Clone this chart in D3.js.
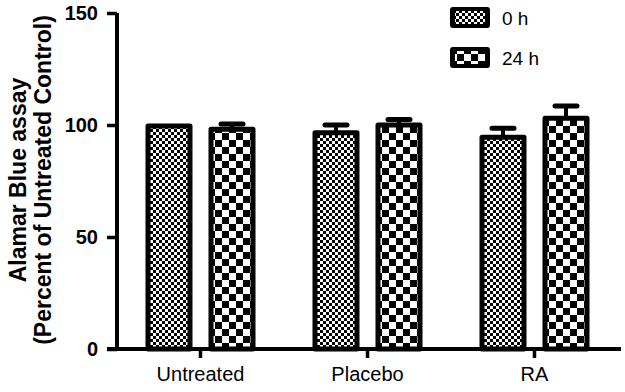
<!DOCTYPE html>
<html><head><meta charset="utf-8">
<script src="https://cdn.jsdelivr.net/npm/d3@7"></script>
<style>html,body{margin:0;padding:0;background:#fff;} svg{display:block;}</style>
</head><body>
<svg id="c" width="625" height="392"></svg>
<script>
const categories = ["Untreated", "Placebo", "RA"];
const series = ["0 h", "24 h"];
const values0h = [100, 97, 95];
const values24h = [98.5, 100.5, 103.5];
const errors0h = [0, 3, 3.5];
const errors24h = [2, 2, 5];
const yTicks = [0, 50, 100, 150];
const yLabel = ["Alamar Blue assay", "(Percent of Untreated Control)"];

const data = categories.map((c, i) => ({
  cat: c,
  bars: [
    {s: series[0], v: values0h[i], e: errors0h[i]},
    {s: series[1], v: values24h[i], e: errors24h[i]}
  ]
}));

const svg = d3.select("#c");
const font = "Arial, 'Liberation Sans', sans-serif";

const defs = svg.append("defs");
function checker(id, cell) {
  const p = defs.append("pattern").attr("id", id).attr("patternUnits", "userSpaceOnUse")
    .attr("width", cell * 2).attr("height", cell * 2);
  p.append("rect").attr("width", cell * 2).attr("height", cell * 2).attr("fill", "#fff");
  p.append("rect").attr("width", cell).attr("height", cell).attr("fill", "#000");
  p.append("rect").attr("x", cell).attr("y", cell).attr("width", cell).attr("height", cell).attr("fill", "#000");
}
checker("p0", 3);
checker("p24", 7);
const patId = {"0 h": "url(#p0)", "24 h": "url(#p24)"};

const y = d3.scaleLinear().domain([0, 150]).range([349, 13]);
const x0 = d3.scaleBand().domain(categories).range([117, 618]);
const x1 = d3.scaleBand().domain(series).range([28.5, 138.5]).paddingInner(0.254);

const sw = 5;
const g = svg.append("g");
const groups = g.selectAll("g.grp").data(data).join("g")
  .attr("transform", d => `translate(${x0(d.cat)},0)`);

// error bars (upper only)
groups.selectAll("g.err").data(d => d.bars.filter(b => b.e > 0)).join("g").each(function(b) {
  const cx = x1(b.s) + x1.bandwidth() / 2;
  const el = d3.select(this);
  el.append("line").attr("x1", cx).attr("x2", cx).attr("y1", y(b.v)).attr("y2", y(b.v + b.e))
    .attr("stroke", "#000").attr("stroke-width", 4);
  el.append("line").attr("x1", cx - 11).attr("x2", cx + 11).attr("y1", y(b.v + b.e)).attr("y2", y(b.v + b.e))
    .attr("stroke", "#000").attr("stroke-width", 5).attr("stroke-linecap", "round");
});

groups.selectAll("rect.bar").data(d => d.bars).join("rect")
  .attr("x", b => x1(b.s) + sw / 2)
  .attr("width", x1.bandwidth() - sw)
  .attr("y", b => y(b.v) + 1)
  .attr("height", b => y(0) - y(b.v) - 1)
  .attr("fill", b => patId[b.s])
  .attr("stroke", "#000").attr("stroke-width", sw).attr("stroke-linejoin", "round");

// y axis
const yAxis = d3.axisLeft(y).tickValues(yTicks).tickSize(10).tickPadding(9);
const ya = svg.append("g").attr("transform", "translate(117,0)").call(yAxis);
ya.select(".domain").remove();
ya.append("line").attr("x1", 0).attr("x2", 0).attr("y1", y(150)).attr("y2", y(0) + 2)
  .attr("stroke", "#000").attr("stroke-width", 4);
ya.selectAll(".tick line").attr("stroke", "#000").attr("stroke-width", 3.5);
ya.selectAll(".tick text").attr("font-family", font).attr("font-size", 20).attr("font-weight", "bold").attr("fill", "#000");

// x axis
const xAxis = d3.axisBottom(x0).tickSize(9).tickPadding(9);
const xa = svg.append("g").attr("transform", `translate(0,${y(0)})`).call(xAxis);
xa.select(".domain").remove();
xa.append("line").attr("x1", 107).attr("x2", 621).attr("y1", 0).attr("y2", 0)
  .attr("stroke", "#000").attr("stroke-width", 4);
xa.selectAll(".tick line").attr("stroke", "#000").attr("stroke-width", 3.5);
xa.selectAll(".tick text").attr("font-family", font).attr("font-size", 20).attr("fill", "#000");

// y label
const yl = svg.append("text").attr("transform", "translate(0,180) rotate(-90)")
  .attr("text-anchor", "middle").attr("font-family", font).attr("font-size", 23).attr("font-weight", "bold");
yl.append("tspan").attr("x", 0).attr("y", 26).text(yLabel[0]);
yl.append("tspan").attr("x", 0).attr("y", 51).text(yLabel[1]);

// legend
const leg = svg.append("g").selectAll("g").data(series).join("g")
  .attr("transform", (d, i) => `translate(450,${7 + i * 40})`);
leg.append("rect").attr("width", 40).attr("height", 21).attr("rx", 3).attr("fill", "#000");
leg.append("rect").attr("x", 5).attr("y", 4).attr("width", 30).attr("height", 13).attr("fill", d => patId[d]);
leg.append("text").attr("x", 52).attr("y", 11).attr("dy", "0.36em")
  .attr("font-family", font).attr("font-size", 19).text(d => d);
</script>
</body></html>
